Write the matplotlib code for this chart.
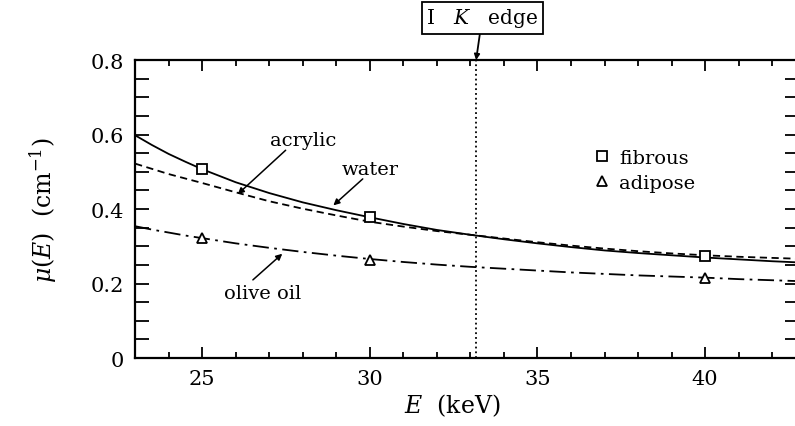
import numpy as np
import matplotlib.pyplot as plt
from matplotlib.ticker import MultipleLocator

# attenuation curves (keV, 1/cm)
energy = [23, 23.5, 24, 24.5, 25, 26, 27, 28, 29, 30, 31, 32, 33, 34, 35, 36, 37, 38, 39, 40, 41, 42, 43]
acrylic = [0.598, 0.572, 0.548, 0.527, 0.507, 0.472, 0.443, 0.418, 0.397, 0.378, 0.360, 0.344, 0.331,
           0.319, 0.308, 0.298, 0.289, 0.282, 0.276, 0.270, 0.265, 0.260, 0.256]
water = [0.522, 0.508, 0.494, 0.482, 0.470, 0.445, 0.421, 0.401, 0.383, 0.366, 0.353, 0.341, 0.331,
         0.321, 0.311, 0.302, 0.294, 0.287, 0.281, 0.276, 0.272, 0.269, 0.266]
olive_oil = [0.354, 0.345, 0.337, 0.329, 0.322, 0.308, 0.296, 0.285, 0.275, 0.266, 0.258, 0.251, 0.245,
             0.240, 0.235, 0.230, 0.226, 0.222, 0.219, 0.216, 0.212, 0.209, 0.206]

# measured tissue samples
tissue_energy = [25, 30, 40]
fibrous = [0.507, 0.378, 0.274]
adipose = [0.322, 0.263, 0.215]

y_ticks = [0, 0.2, 0.4, 0.6, 0.8]
y_tick_labels = ['0', '0.2', '0.4', '0.6', '0.8']

k_edge = 33.17

plt.rcParams['font.family'] = 'DejaVu Serif'
plt.rcParams['mathtext.fontset'] = 'dejavuserif'

fig = plt.figure(figsize=(7.95, 4.27), dpi=100)
ax = fig.add_axes([0.17, 0.159, 0.835, 0.698])

ax.plot(energy, acrylic, color='k', lw=1.3, ls='-')
ax.plot(energy, water, color='k', lw=1.3, ls=(0, (4, 2.5)))
ax.plot(energy, olive_oil, color='k', lw=1.3, ls=(0, (9, 3, 1.5, 3)))

ax.plot(tissue_energy, fibrous, ls='none', marker='s', ms=7.5, mfc='w', mec='k', mew=1.3, label='fibrous')
ax.plot(tissue_energy, adipose, ls='none', marker='^', ms=7.5, mfc='w', mec='k', mew=1.3, label='adipose')

ax.axvline(k_edge, color='k', ls=':', lw=1.3)

ax.set_xlim(23, 42.8)
ax.set_ylim(0, 0.8)
ax.xaxis.set_major_locator(MultipleLocator(5))
ax.xaxis.set_minor_locator(MultipleLocator(1))
ax.set_yticks(y_ticks, y_tick_labels)
ax.yaxis.set_minor_locator(MultipleLocator(0.05))
ax.tick_params(which='both', direction='in', top=True, right=True, width=1.3, labelsize=15)
ax.tick_params(axis='x', which='major', length=8, pad=8)
ax.tick_params(axis='x', which='minor', length=4)
ax.tick_params(axis='y', which='both', length=10, pad=8)
for s in ax.spines.values():
    s.set_linewidth(1.6)

ax.set_xlabel('$E$  (keV)', fontsize=17)
ax.xaxis.set_label_coords(0.477, -0.112)
ax.set_ylabel(r'$\mu(E)$  (cm$^{-1}$)', fontsize=17)
ax.yaxis.set_label_coords(-0.115, 0.5)

ax.legend(loc='upper left', bbox_to_anchor=(0.665, 0.76), frameon=False, fontsize=14,
          handlelength=0.8, handletextpad=0.5, labelspacing=0.35)

arrow = dict(arrowstyle='-|>', color='k', lw=1.1, mutation_scale=9)
ax.text(28.0, 0.585, 'acrylic', fontsize=14, ha='center', va='center')
ax.annotate('', xy=(26.0, 0.435), xytext=(27.55, 0.563), arrowprops=arrow)
ax.text(30.0, 0.507, 'water', fontsize=14, ha='center', va='center')
ax.annotate('', xy=(28.85, 0.405), xytext=(29.85, 0.486), arrowprops=arrow)
ax.text(26.8, 0.175, 'olive oil', fontsize=14, ha='center', va='center')
ax.annotate('', xy=(27.45, 0.285), xytext=(26.45, 0.205), arrowprops=arrow)

ax.annotate('I   $K$   edge', xy=(k_edge, 0.8), xytext=(33.35, 0.913), textcoords='data',
            fontsize=14.5, ha='center', va='center', annotation_clip=False,
            bbox=dict(boxstyle='square,pad=0.22', fc='w', ec='k', lw=1.3),
            arrowprops=dict(arrowstyle='-|>', color='k', lw=1.3, mutation_scale=8,
                            shrinkA=0, shrinkB=0))

fig.savefig('out.png', dpi=100)
